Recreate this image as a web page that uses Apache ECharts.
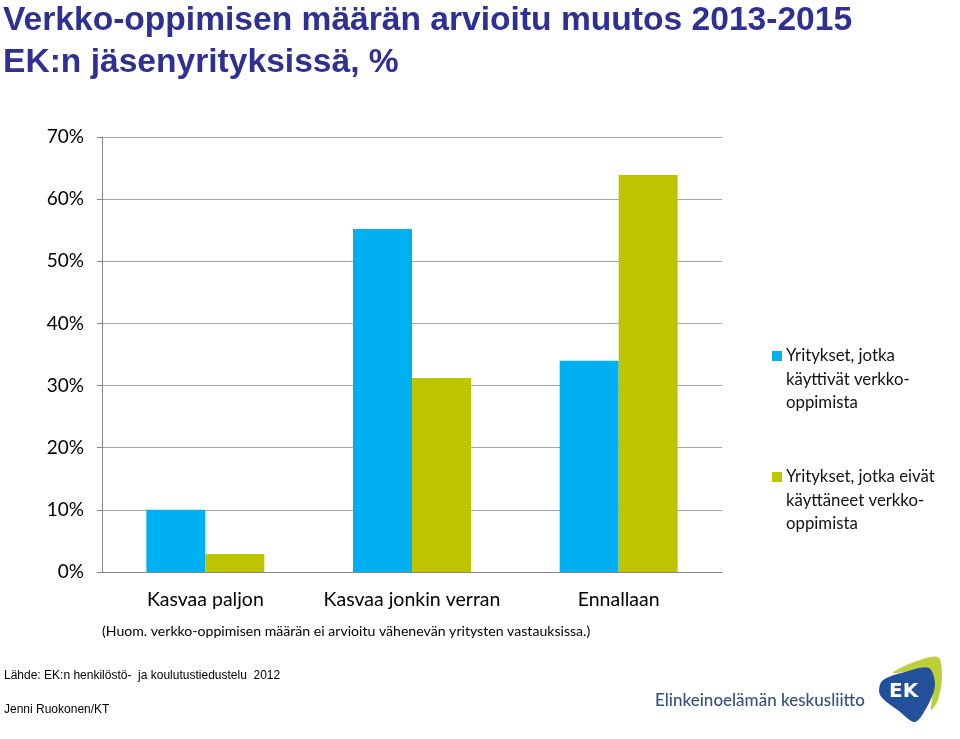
<!DOCTYPE html>
<html>
<head>
<meta charset="utf-8">
<script src="https://cdn.jsdelivr.net/npm/echarts@6/dist/echarts.min.js"></script>
<style>
html,body{margin:0;padding:0;background:#fff;}
#c{width:960px;height:739px;}
</style>
</head>
<body>
<div id="c"></div>
<script>
var categories = ['Kasvaa paljon', 'Kasvaa jonkin verran', 'Ennallaan'];
var seriesNames = ['Yritykset, jotka\nkäyttivät verkko-\noppimista', 'Yritykset, jotka eivät\nkäyttäneet verkko-\noppimista'];
var usedValues = [10.0, 55.2, 34.0];
var notUsedValues = [2.9, 31.2, 63.9];
var yTicks = [0, 10, 20, 30, 40, 50, 60, 70];
var colors = ['#00B0F0', '#BDC400'];

var chart = echarts.init(document.getElementById('c'));
var lab = 'Lato, "Open Sans", sans-serif';
var option = {
  animation: false,
  backgroundColor: '#fff',
  title: {
    text: 'Verkko-oppimisen määrän arvioitu muutos 2013-2015\nEK:n jäsenyrityksissä, %',
    left: -2, top: -5,
    textStyle: { fontFamily: '"Liberation Sans", Arial, sans-serif', fontWeight: 'bold', fontSize: 33.6, lineHeight: 41.5, color: '#2E3192' }
  },
  grid: { left: 102, right: 238, top: 137, bottom: 167 },
  xAxis: {
    type: 'category', data: categories,
    axisLine: { lineStyle: { color: '#868686' } },
    axisTick: { length: 5, lineStyle: { color: '#868686' } },
    axisLabel: { interval: 0, fontFamily: lab, fontSize: 19.5, color: '#000', margin: 18 }
  },
  yAxis: {
    type: 'value', min: yTicks[0], max: yTicks[yTicks.length - 1], interval: 10,
    axisLine: { show: true, lineStyle: { color: '#868686' } },
    axisTick: { show: true, length: 5, lineStyle: { color: '#868686' } },
    splitLine: { lineStyle: { color: '#A6A6A6' } },
    axisLabel: { fontFamily: lab, fontSize: 19, color: '#000', margin: 18, formatter: '{value}%' }
  },
  series: [
    { name: seriesNames[0], type: 'bar', data: usedValues, barWidth: 59, barGap: '0%', itemStyle: { color: colors[0] } },
    { name: seriesNames[1], type: 'bar', data: notUsedValues, barWidth: 59, barGap: '0%', itemStyle: { color: colors[1] } }
  ],
  graphic: []
};

var g = [];
var legendTops = [351, 472];
seriesNames.forEach(function (n, i) {
  g.push({ type: 'rect', x: 772, y: legendTops[i], shape: { x: 0, y: 0, width: 10, height: 10 }, style: { fill: colors[i] } });
  g.push({ type: 'text', x: 786, y: legendTops[i] - 7, style: { text: n, font: '16.8px ' + lab, lineHeight: 23.5, fill: '#111' } });
});
g.push({ type: 'text', x: 102, y: 624, style: { text: '(Huom. verkko-oppimisen määrän ei arvioitu vähenevän yritysten vastauksissa.)', font: '14.1px ' + lab, fill: '#000' } });
g.push({ type: 'text', x: 4, y: 670, style: { text: 'Lähde: EK:n henkilöstö-  ja koulutustiedustelu  2012', font: '12px "Liberation Sans", Arial, sans-serif', fill: '#000' } });
g.push({ type: 'text', x: 4, y: 704, style: { text: 'Jenni Ruokonen/KT', font: '12px "Liberation Sans", Arial, sans-serif', fill: '#000' } });
// logo
g.push({ type: 'text', x: 655, y: 692, style: { text: 'Elinkeinoelämän keskusliitto', font: '500 17px ' + lab, fill: '#35507E' } });
g.push({ type: 'polygon', shape: { smooth: 0.3, points: [[893, 673], [914, 662], [938, 657], [942, 676], [938, 700], [931, 710], [933, 686], [925, 671]] }, style: { fill: '#BCCF3A' } });
g.push({ type: 'polygon', shape: { smooth: 0.3, points: [[882, 681], [905, 672], [929, 668], [935, 685], [928, 705], [915, 722], [899, 711], [880, 695]] }, style: { fill: '#22509A' } });
g.push({ type: 'text', x: 889, y: 682, style: { text: 'EK', font: 'bold 20px "DejaVu Sans", sans-serif', fill: '#fff' } });
option.graphic = g;
chart.setOption(option);
</script>
</body>
</html>
